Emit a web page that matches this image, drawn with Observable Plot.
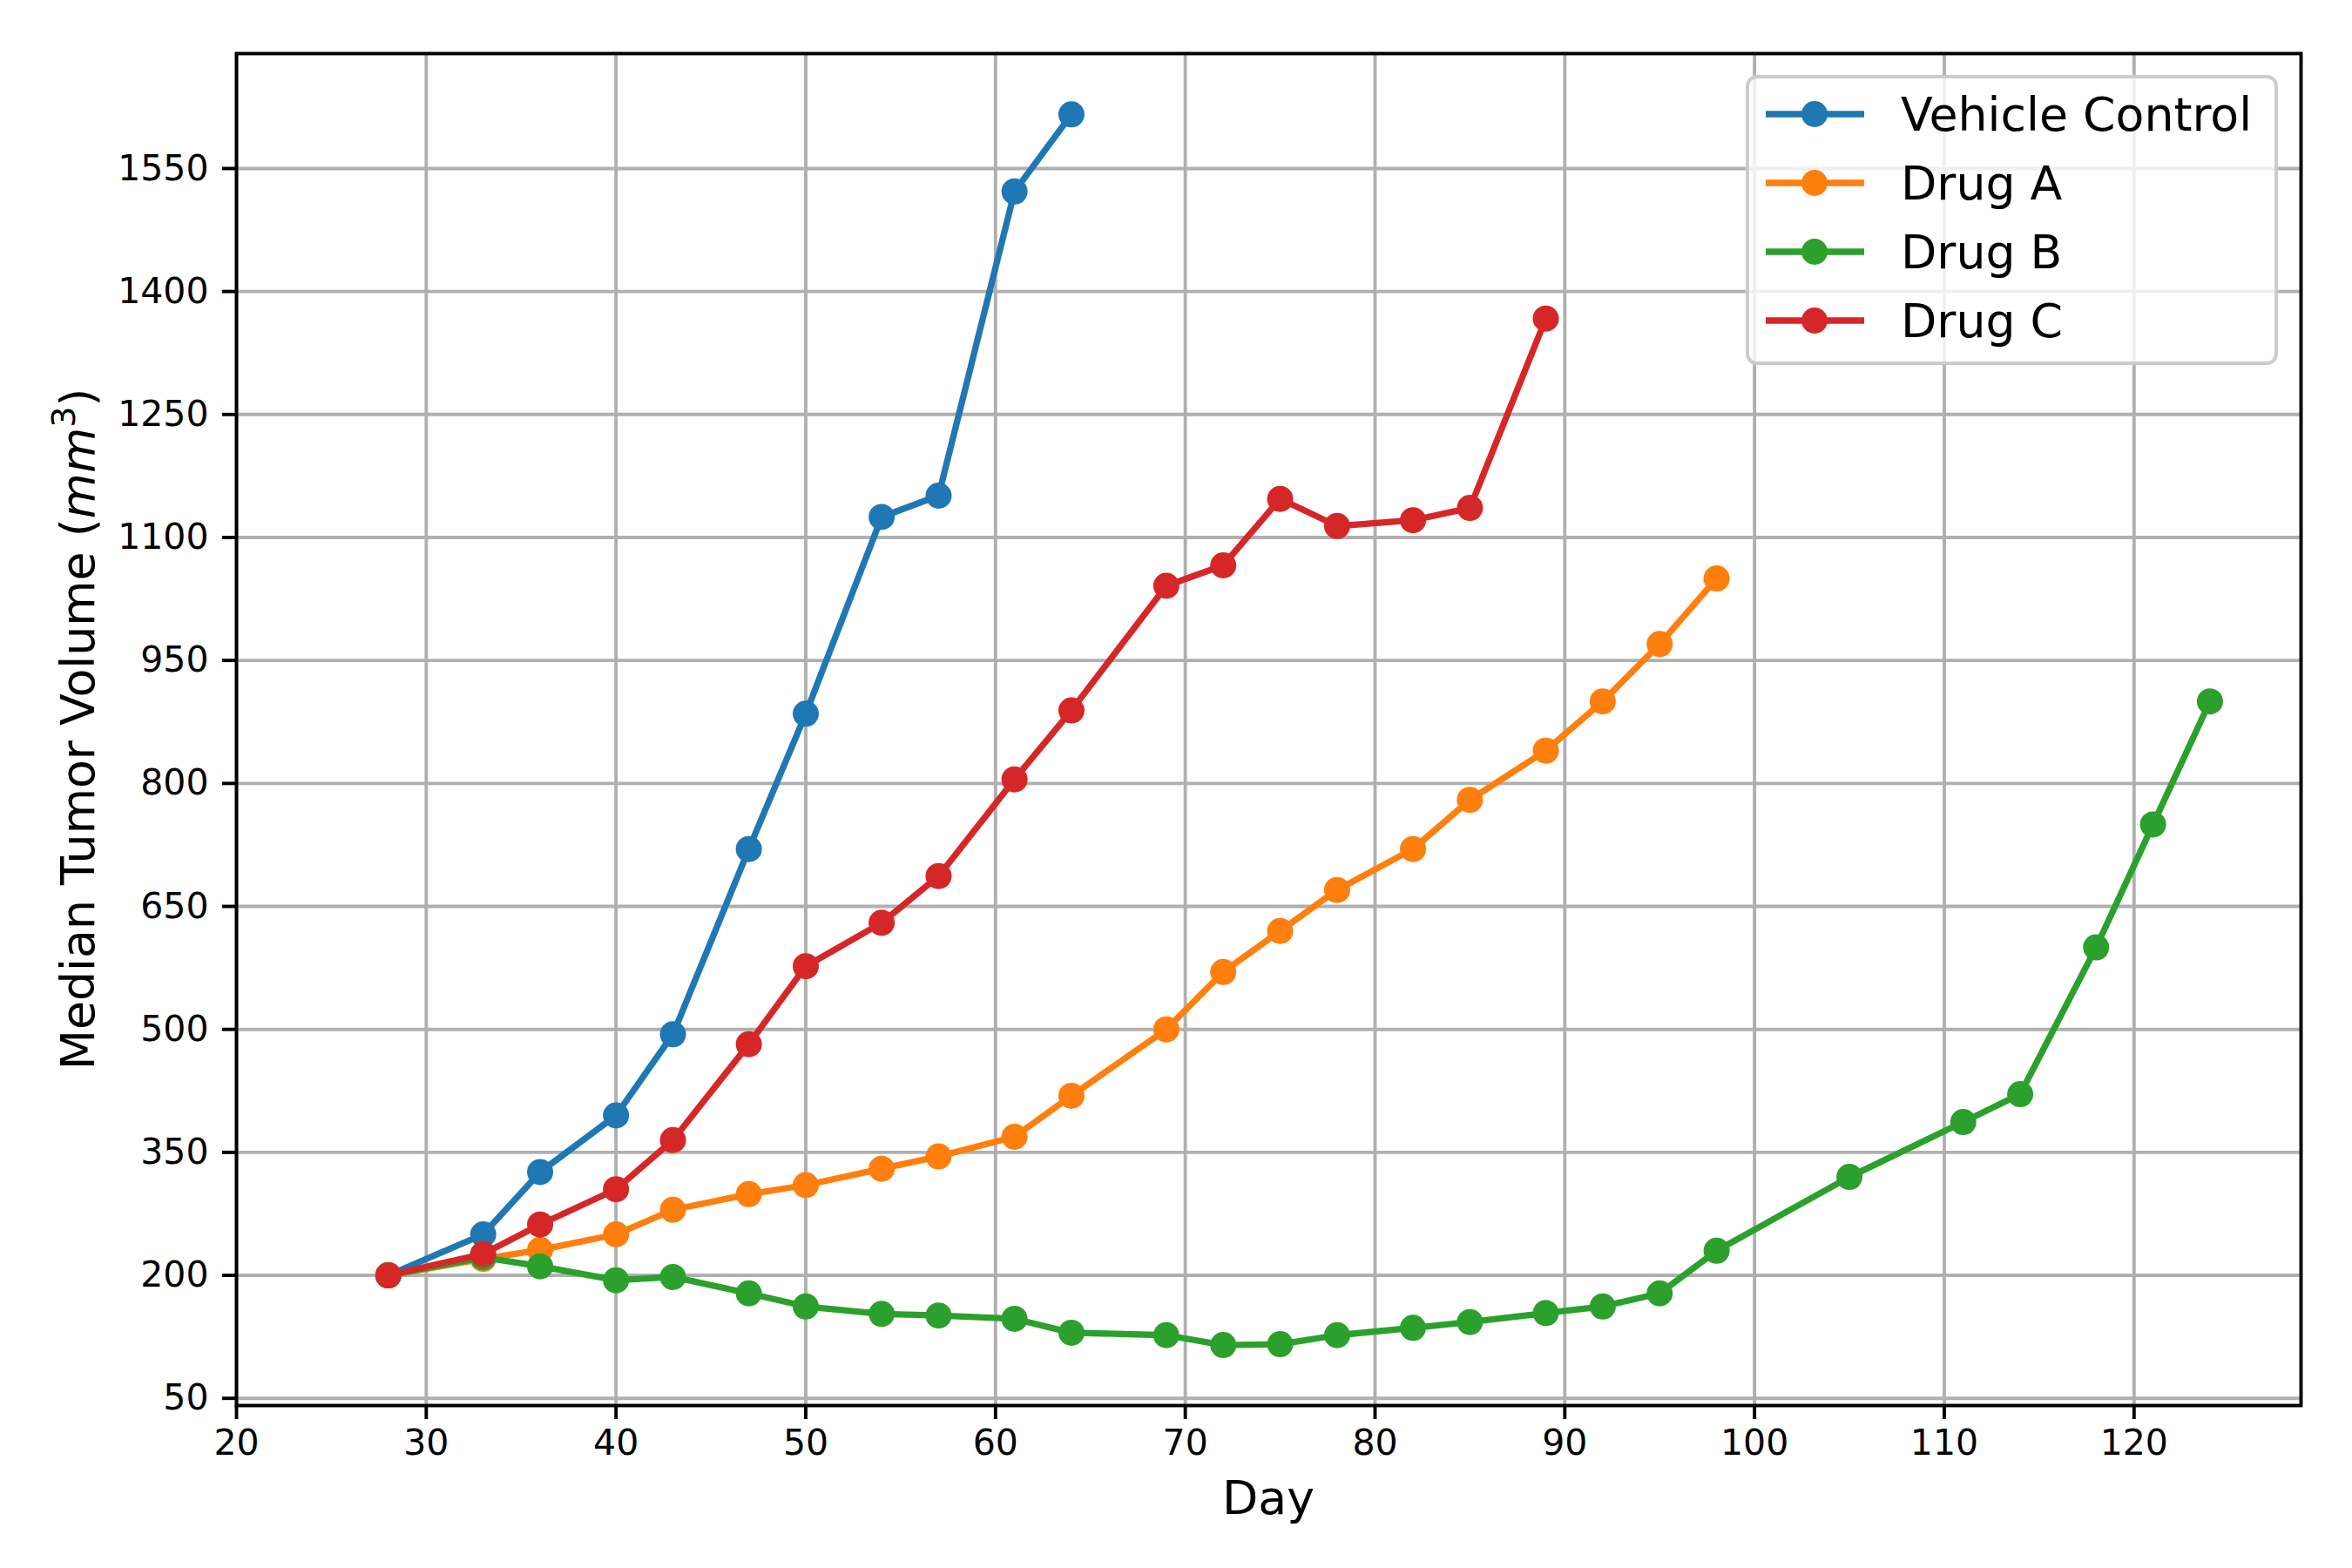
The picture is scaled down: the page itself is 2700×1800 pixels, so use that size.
<!DOCTYPE html>
<html>
<head>
<meta charset="utf-8">
<script src="https://cdn.jsdelivr.net/npm/d3@7"></script>
<script src="https://cdn.jsdelivr.net/npm/@observablehq/plot@0.6"></script>
<style>
  html, body { margin: 0; padding: 0; background: white; }
  #chart { width: 2700px; height: 1800px; }
</style>
</head>
<body>
<div id="chart"></div>
<script>
// ---- Data ----
const seriesNames = ["Vehicle Control", "Drug A", "Drug B", "Drug C"];
const seriesColors = ["#1f77b4", "#ff7f0e", "#2ca02c", "#d62728"];

const vehicleDays = [28, 33, 36, 40, 43, 47, 50, 54, 57, 61, 64];
const vehicleVolume = [200, 250, 326, 395, 494, 720, 885, 1125, 1151, 1522, 1616];

const drugADays = [28, 33, 36, 40, 43, 47, 50, 54, 57, 61, 64, 69, 72, 75, 78, 82, 85, 89, 92, 95, 98];
const drugAVolume = [200, 220, 231, 250, 280, 299, 310, 330, 345, 369, 419, 500, 570, 620, 670, 720, 780, 840, 900, 970, 1050];

const drugBDays = [28, 33, 36, 40, 43, 47, 50, 54, 57, 61, 64, 69, 72, 75, 78, 82, 85, 89, 92, 95, 98, 105, 111, 114, 118, 121, 124];
const drugBVolume = [200, 222, 211, 194, 198, 178, 162, 153, 151, 147, 130, 127, 115, 116, 127, 136, 143, 154, 162, 178, 230, 320, 387, 421, 600, 750, 900];

const drugCDays = [28, 33, 36, 40, 43, 47, 50, 54, 57, 61, 64, 69, 72, 75, 78, 82, 85, 89];
const drugCVolume = [200, 226, 262, 305, 365, 482, 577, 630, 687, 805, 889, 1041, 1066, 1147, 1114, 1121, 1136, 1367];

const xTicks = [20, 30, 40, 50, 60, 70, 80, 90, 100, 110, 120];
const yTicks = [50, 200, 350, 500, 650, 800, 950, 1100, 1250, 1400, 1550];

// ---- Build table ----
const allDays = [vehicleDays, drugADays, drugBDays, drugCDays];
const allVols = [vehicleVolume, drugAVolume, drugBVolume, drugCVolume];
const seriesData = seriesNames.map((name, i) =>
  allDays[i].map((d, j) => ({ series: name, day: d, volume: allVols[i][j] }))
);

const W = 2700, H = 1800;
const mL = 271, mR = 59, mT = 61, mB = 187;
const lw = 7.3;
const thin = 3.9;
const tickLen = 16;
const tickFont = 41;
const labelFont = 53.7;

const marks = [
  Plot.gridX(xTicks, { stroke: "#b0b0b0", strokeOpacity: 1, strokeWidth: thin }),
  Plot.gridY(yTicks, { stroke: "#b0b0b0", strokeOpacity: 1, strokeWidth: thin }),
];
seriesData.forEach((data, i) => {
  marks.push(Plot.line(data, { x: "day", y: "volume", stroke: seriesColors[i], strokeWidth: lw, strokeLinejoin: "round", strokeLinecap: "butt" }));
  marks.push(Plot.dot(data, { x: "day", y: "volume", fill: seriesColors[i], r: 15, stroke: "none" }));
});
marks.push(
  Plot.frame({ stroke: "black", strokeWidth: thin }),
  Plot.axisX(xTicks, { tickSize: tickLen, tickPadding: 11, strokeWidth: thin, stroke: "black", fill: "black", label: null, fontSize: tickFont, tickFormat: d3.format("d") }),
  Plot.axisY(yTicks, { tickSize: tickLen, tickPadding: 16, strokeWidth: thin, stroke: "black", fill: "black", label: null, fontSize: tickFont, tickFormat: d3.format("d") })
);

const plot = Plot.plot({
  width: W, height: H,
  marginLeft: mL, marginRight: mR, marginTop: mT, marginBottom: mB,
  style: { fontFamily: "DejaVu Sans", background: "white", color: "black" },
  x: { domain: [20, 128.8] },
  y: { domain: [41.2, 1690.2] },
  marks
});
document.getElementById("chart").appendChild(plot);

// ---- Axis labels and legend ----
const svg = d3.select(plot);
svg.append("text")
  .attr("x", (mL + W - mR) / 2).attr("y", 1738)
  .attr("text-anchor", "middle")
  .attr("font-family", "DejaVu Sans").attr("font-size", labelFont).attr("fill", "black")
  .text("Day");

const yl = svg.append("text")
  .attr("transform", `translate(108, ${(mT + H - mB) / 2}) rotate(-90)`)
  .attr("text-anchor", "middle")
  .attr("font-family", "DejaVu Sans").attr("font-size", labelFont).attr("fill", "black");
yl.append("tspan").text("Median Tumor Volume (");
yl.append("tspan").attr("font-style", "italic").text("mm");
yl.append("tspan").attr("font-size", 38).attr("dy", -22).text("3");
yl.append("tspan").attr("dy", 22).text(")");

const lg = svg.append("g").attr("text-anchor", "start");
lg.append("rect")
  .attr("x", 2006).attr("y", 88).attr("width", 607).attr("height", 329)
  .attr("rx", 11).attr("ry", 11)
  .attr("fill", "white").attr("fill-opacity", 0.8)
  .attr("stroke", "#cccccc").attr("stroke-width", thin);
const rowY = [131, 210, 289, 368];
seriesNames.forEach((name, i) => {
  lg.append("line").attr("x1", 2027).attr("x2", 2140).attr("y1", rowY[i]).attr("y2", rowY[i])
    .attr("stroke", seriesColors[i]).attr("stroke-width", lw);
  lg.append("circle").attr("cx", 2083).attr("cy", rowY[i]).attr("r", 15).attr("fill", seriesColors[i]);
  lg.append("text").attr("x", 2182).attr("y", rowY[i]).attr("dy", "0.36em")
    .attr("text-anchor", "start")
    .attr("font-family", "DejaVu Sans").attr("font-size", labelFont).attr("fill", "black")
    .text(name);
});
</script>
</body>
</html>
